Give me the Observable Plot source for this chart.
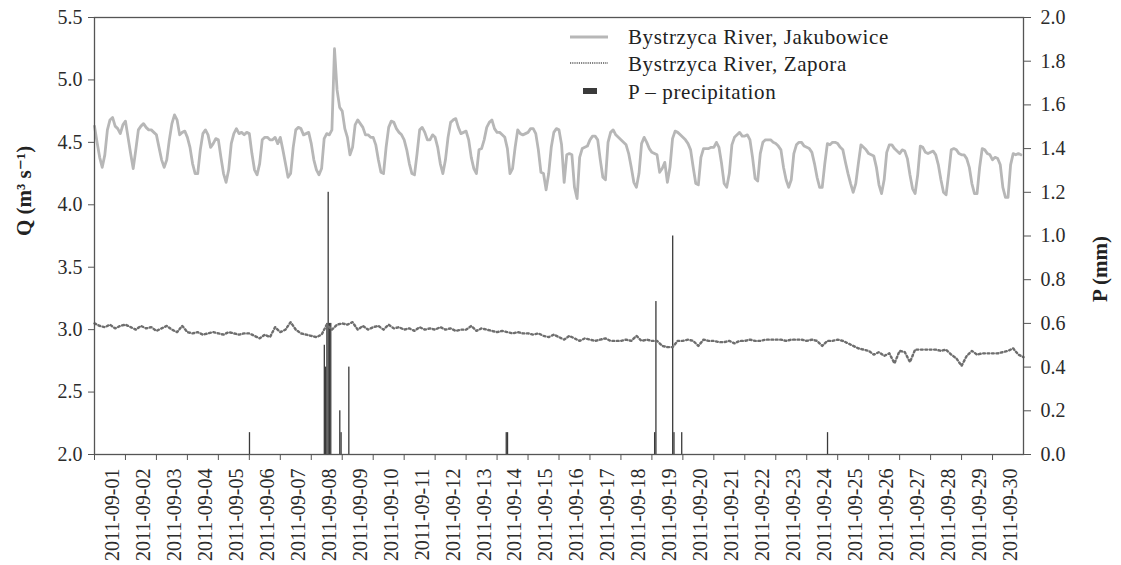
<!DOCTYPE html>
<html><head><meta charset="utf-8">
<script src="https://cdn.jsdelivr.net/npm/d3@7"></script>
<script src="https://cdn.jsdelivr.net/npm/@observablehq/plot@0.6"></script>
<style>
html,body{margin:0;padding:0;background:#fff;}
#wrap{position:relative;width:1121px;height:565px;}
#legend{position:absolute;left:560px;top:20px;}
svg text{font-family:"Liberation Serif","DejaVu Serif","Noto Serif",serif;}
</style></head>
<body><div id="wrap"></div>
<script>
// ---------- data ----------
const startTime = "2011-09-01T00:00:00Z";
const jakStepHours = 2;   // Bystrzyca River, Jakubowice (2-hourly readings)
const jakubowice = [
 4.63,4.50,4.38,4.30,4.40,4.60,4.68,4.70,4.63,4.61,4.57,4.64,
 4.67,4.54,4.41,4.29,4.44,4.60,4.63,4.65,4.62,4.60,4.60,4.58,
 4.56,4.46,4.36,4.30,4.36,4.52,4.65,4.72,4.68,4.56,4.58,4.59,
 4.54,4.46,4.33,4.25,4.25,4.44,4.57,4.60,4.56,4.46,4.49,4.53,
 4.52,4.38,4.25,4.18,4.28,4.49,4.57,4.61,4.57,4.58,4.56,4.58,
 4.57,4.41,4.28,4.24,4.33,4.52,4.54,4.54,4.52,4.52,4.54,4.49,
 4.54,4.44,4.33,4.22,4.25,4.46,4.60,4.62,4.61,4.56,4.57,4.58,
 4.49,4.36,4.28,4.24,4.29,4.53,4.57,4.56,4.60,5.25,4.92,4.78,
 4.75,4.61,4.54,4.40,4.46,4.64,4.68,4.65,4.62,4.56,4.56,4.54,
 4.54,4.48,4.36,4.26,4.25,4.46,4.62,4.67,4.66,4.61,4.58,4.56,
 4.52,4.44,4.33,4.25,4.24,4.41,4.60,4.62,4.58,4.52,4.52,4.56,
 4.54,4.46,4.33,4.25,4.36,4.54,4.66,4.68,4.69,4.62,4.57,4.58,
 4.59,4.52,4.38,4.29,4.25,4.44,4.45,4.52,4.62,4.66,4.68,4.61,
 4.58,4.58,4.56,4.54,4.45,4.25,4.29,4.46,4.60,4.57,4.56,4.57,
 4.58,4.61,4.61,4.57,4.44,4.26,4.25,4.12,4.25,4.46,4.58,4.61,
 4.60,4.48,4.18,4.40,4.41,4.40,4.14,4.05,4.38,4.45,4.46,4.47,
 4.52,4.55,4.55,4.52,4.36,4.22,4.20,4.50,4.58,4.60,4.56,4.54,
 4.52,4.50,4.48,4.41,4.30,4.18,4.14,4.25,4.49,4.54,4.50,4.45,
 4.42,4.41,4.40,4.26,4.29,4.34,4.18,4.30,4.53,4.59,4.58,4.56,
 4.54,4.52,4.49,4.44,4.30,4.17,4.16,4.38,4.45,4.45,4.45,4.46,
 4.46,4.50,4.46,4.33,4.17,4.14,4.25,4.48,4.54,4.56,4.58,4.55,
 4.55,4.56,4.52,4.38,4.21,4.19,4.41,4.50,4.52,4.52,4.52,4.50,
 4.49,4.47,4.44,4.30,4.20,4.14,4.20,4.41,4.48,4.50,4.50,4.47,
 4.46,4.45,4.42,4.33,4.22,4.14,4.14,4.33,4.49,4.48,4.50,4.50,
 4.49,4.46,4.44,4.34,4.25,4.17,4.10,4.17,4.33,4.48,4.46,4.44,
 4.41,4.40,4.39,4.30,4.16,4.09,4.20,4.42,4.48,4.48,4.45,4.43,
 4.41,4.44,4.43,4.37,4.24,4.13,4.09,4.24,4.47,4.46,4.42,4.41,
 4.42,4.43,4.40,4.32,4.20,4.10,4.08,4.25,4.44,4.45,4.44,4.41,
 4.40,4.40,4.37,4.30,4.17,4.09,4.09,4.30,4.45,4.44,4.41,4.40,
 4.36,4.38,4.37,4.32,4.14,4.06,4.06,4.32,4.41,4.40,4.41,4.40
];
const zapStepHours = 4;   // Bystrzyca River, Zapora (4-hourly readings)
const zapora = [
 3.05,3.03,3.02,3.04,3.01,3.03,
 3.04,3.02,3.00,3.03,3.01,3.02,
 2.99,3.01,3.03,3.00,2.98,3.03,
 2.98,2.97,2.98,2.96,2.97,2.98,
 2.97,2.96,2.98,2.97,2.96,2.97,
 2.97,2.95,2.93,2.96,2.94,3.02,
 2.98,3.00,3.06,3.00,2.97,2.96,
 2.95,2.94,2.96,3.04,3.00,3.04,
 3.05,3.04,3.06,3.00,3.03,3.00,
 3.02,3.03,3.00,3.04,3.01,3.02,
 3.00,3.01,2.99,3.02,3.00,3.01,
 3.00,3.02,3.00,3.01,2.99,3.00,
 3.00,3.03,2.99,3.01,3.00,2.99,
 2.98,2.99,2.98,2.97,2.98,2.97,
 2.97,2.96,2.97,2.95,2.94,2.96,
 2.94,2.92,2.95,2.93,2.91,2.93,
 2.92,2.91,2.92,2.93,2.91,2.91,
 2.91,2.92,2.91,2.95,2.91,2.92,
 2.91,2.91,2.87,2.86,2.86,2.91,
 2.91,2.92,2.91,2.87,2.92,2.91,
 2.91,2.90,2.90,2.91,2.89,2.91,
 2.91,2.92,2.91,2.91,2.92,2.92,
 2.92,2.92,2.91,2.92,2.92,2.92,
 2.91,2.92,2.91,2.87,2.91,2.91,
 2.92,2.91,2.89,2.87,2.85,2.84,
 2.83,2.80,2.82,2.79,2.81,2.73,
 2.83,2.82,2.74,2.84,2.84,2.84,
 2.84,2.84,2.83,2.84,2.80,2.77,
 2.71,2.79,2.83,2.80,2.81,2.81,
 2.81,2.81,2.82,2.83,2.85,2.80,
 2.78
];
const precipTimes = [
 "2011-09-06T00:00:00Z",
 "2011-09-08T10:00:00Z","2011-09-08T11:00:00Z","2011-09-08T12:00:00Z",
 "2011-09-08T13:00:00Z","2011-09-08T14:00:00Z","2011-09-08T15:00:00Z",
 "2011-09-08T22:00:00Z","2011-09-08T23:00:00Z","2011-09-09T05:00:00Z",
 "2011-09-14T07:00:00Z","2011-09-14T08:00:00Z",
 "2011-09-19T02:00:00Z","2011-09-19T03:00:00Z","2011-09-19T16:00:00Z",
 "2011-09-19T17:00:00Z","2011-09-19T23:00:00Z",
 "2011-09-24T16:00:00Z"
];
const precipValues = [0.1, 0.5,0.4,0.6, 1.2,0.6,0.6, 0.2,0.1,0.4, 0.1,0.1, 0.1,0.7,1.0, 0.1,0.1, 0.1];
const dayLabels = [
 "2011-09-01","2011-09-02","2011-09-03","2011-09-04","2011-09-05","2011-09-06",
 "2011-09-07","2011-09-08","2011-09-09","2011-09-10","2011-09-11","2011-09-12",
 "2011-09-13","2011-09-14","2011-09-15","2011-09-16","2011-09-17","2011-09-18",
 "2011-09-19","2011-09-20","2011-09-21","2011-09-22","2011-09-23","2011-09-24",
 "2011-09-25","2011-09-26","2011-09-27","2011-09-28","2011-09-29","2011-09-30"
];
const qTicks = [2.0,2.5,3.0,3.5,4.0,4.5,5.0,5.5];
const pTicks = [0.0,0.2,0.4,0.6,0.8,1.0,1.2,1.4,1.6,1.8,2.0];
const qDomain = [2.0, 5.5];
const pDomain = [0.0, 2.0];

// ---------- build ----------
const FONT = '"Liberation Serif","DejaVu Serif","Noto Serif",serif';
const H = 3600e3, DAY = 86400e3;
const t0 = Date.parse(startTime);
const pToQ = p => qDomain[0] + (p - pDomain[0]) * (qDomain[1]-qDomain[0]) / (pDomain[1]-pDomain[0]);
const qToP = q => pDomain[0] + (q - qDomain[0]) * (pDomain[1]-pDomain[0]) / (qDomain[1]-qDomain[0]);
const jakData = jakubowice.map((q,i) => ({t: new Date(t0 + i*jakStepHours*H), q}));
const zapData = zapora.map((q,i) => ({t: new Date(t0 + i*zapStepHours*H), q}));
const precipData = precipTimes.map((s,i) => ({t1: new Date(s), t2: new Date(Date.parse(s) + H), p: precipValues[i]}));
const tickDates = dayLabels.map(s => new Date(s + "T00:00:00Z"));
const labelOf = d => dayLabels[Math.round((+d - t0)/DAY)];

const chart = Plot.plot({
  width: 1121, height: 565,
  marginTop: 17, marginBottom: 111, marginLeft: 94, marginRight: 98,
  style: {fontFamily: FONT, fontSize: "20px", color: "#2b2b2b", background: "#fff"},
  x: {type: "utc", domain: [new Date(t0), new Date(t0 + 30*DAY)]},
  y: {domain: qDomain},
  marks: [
    Plot.rect(precipData, {x1: "t1", x2: "t2", y1: d => pToQ(0), y2: d => pToQ(d.p), fill: "#3a3a3a"}),
    Plot.line(zapData, {x: "t", y: "q", stroke: "#6e6e6e", strokeWidth: 2.4, strokeDasharray: "1.8,2.6"}),
    Plot.line(jakData, {x: "t", y: "q", stroke: "#b7b7b7", strokeWidth: 2.8}),
    Plot.frame({stroke: "#555", strokeWidth: 1.3}),
    Plot.axisY({ticks: qTicks, tickFormat: d => d.toFixed(1), tickSize: 6, tickPadding: 6, label: null, stroke: "#555"}),
    Plot.axisY({anchor: "right", ticks: pTicks.map(pToQ), tickFormat: q => qToP(q).toFixed(1), tickSize: 7, tickPadding: 10, label: null, stroke: "#555"}),
    Plot.axisX({ticks: tickDates, tickSize: 6, tickFormat: () => "", label: null, stroke: "#555"}),
    Plot.axisX({ticks: tickDates, tickSize: 0, tickPadding: 14, tickRotate: -90, tickFormat: labelOf, dx: 18, label: null}),
    Plot.text(["Q (m³ s⁻¹)"], {frameAnchor: "left", dx: -70, rotate: -90, fontWeight: "bold", fontSize: 21, fill: "#222"}),
    Plot.text(["P (mm)"], {frameAnchor: "right", dx: 77, rotate: -90, fontWeight: "bold", fontSize: 21, fill: "#222"})
  ]
});
const wrap = document.getElementById("wrap");
wrap.appendChild(chart);

const legend = document.createElement("div");
legend.id = "legend";
legend.innerHTML = `
<svg width="360" height="92" xmlns="http://www.w3.org/2000/svg" style="font-size:21px;letter-spacing:0.6px;fill:#222">
  <line x1="10" x2="48" y1="17" y2="17" stroke="#b7b7b7" stroke-width="2.8"/>
  <line x1="10" x2="48" y1="43" y2="43" stroke="#5a5a5a" stroke-width="1.4" stroke-dasharray="1.2,1"/>
  <rect x="23" y="68" width="14" height="6" fill="#3a3a3a"/>
  <text x="68" y="24">Bystrzyca River, Jakubowice</text>
  <text x="68" y="51">Bystrzyca River, Zapora</text>
  <text x="68" y="79">P – precipitation</text>
</svg>`;
wrap.appendChild(legend);
</script>
</body></html>
